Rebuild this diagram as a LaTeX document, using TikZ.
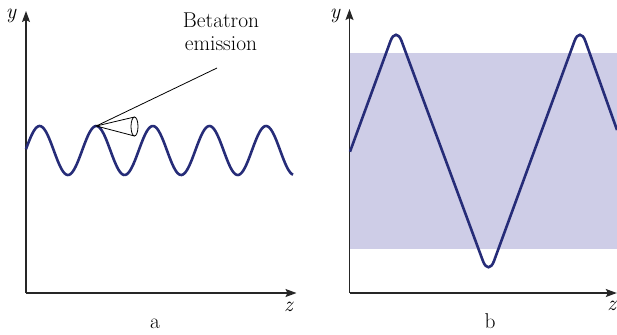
\documentclass[tikz,border=0pt]{standalone}
\usepackage{tikz}
\usepackage{xcolor}
\usetikzlibrary{positioning,arrows.meta,calc}

\definecolor{wavenavy}{RGB}{38,44,120}
\definecolor{bandlilac}{RGB}{206,205,231}

\tikzset{
  axis/.style={-{Stealth[length=11bp,width=8bp,inset=2bp]},line width=1.2bp,black!85},
  orbit/.style={wavenavy,line width=2.6bp},
  thin line/.style={line width=0.8bp,black},
  lbl/.style={font=\fontsize{21.5}{22.3}\selectfont,inner sep=0pt},
  varlbl/.style={lbl,font=\fontsize{21.5}{22.3}\selectfont\itshape}
}

\begin{document}
\begin{tikzpicture}[x=1bp,y=-1bp]
  \useasboundingbox (0,0) rectangle (617,334);
  % --- panel a: small oscillation ---
  \coordinate (oa) at (26,293);
  \coordinate (ya) at (26,11);
  \coordinate (za) at (296.5,293);
  \draw[axis] (oa) -- (ya);
  \draw[axis] (oa) -- (za);
  \node[varlbl] (ylaba) at (11,16) {y};
  \node[varlbl] (zlaba) at (288.5,307) {z};
  \node[lbl,anchor=base] (capa) at (155,328.3) {a};
  % 360/56.6 = 6.3604 deg per unit
  \draw[orbit] plot[domain=26:293,samples=200,smooth]
    (\x,{150.5-24.5*sin(6.3604*(\x-25.5))});
  % cone of emission at the second crest
  \coordinate (apex) at (96.3,126);
  \coordinate (rimtop) at (134.5,117);
  \coordinate (rimbot) at (134.5,136);
  \draw[thin line] (rimtop) -- (apex) -- (rimbot);
  \draw[thin line] (134.5,126.5) ellipse [x radius=3.5,y radius=9.5];
  \node[lbl,align=center,anchor=north] (emis) at (221,13) {Betatron\\emission};
  \coordinate (leadend) at (217,68);
  \draw[thin line] (apex) -- (leadend);
  % --- panel b: large oscillation ---
  \fill[bandlilac] (349.5,52.7) rectangle (617,249.3);
  \coordinate (ob) at (349.5,293);
  \coordinate (yb) at (349.5,9);
  \coordinate (zb) at (616.8,293);
  \draw[axis] (ob) -- (yb);
  \draw[axis] (ob) -- (zb);
  \node[varlbl] (ylabb) at (335,16) {y};
  \node[varlbl] (zlabb) at (611.7,306) {z};
  \node[lbl,anchor=base] (capb) at (490,328.3) {b};
  \draw[orbit,rounded corners=16] (350,151.7) -- (396,26) -- (488.5,276)
    -- (580,26) -- (617,130);
\end{tikzpicture}
\end{document}
